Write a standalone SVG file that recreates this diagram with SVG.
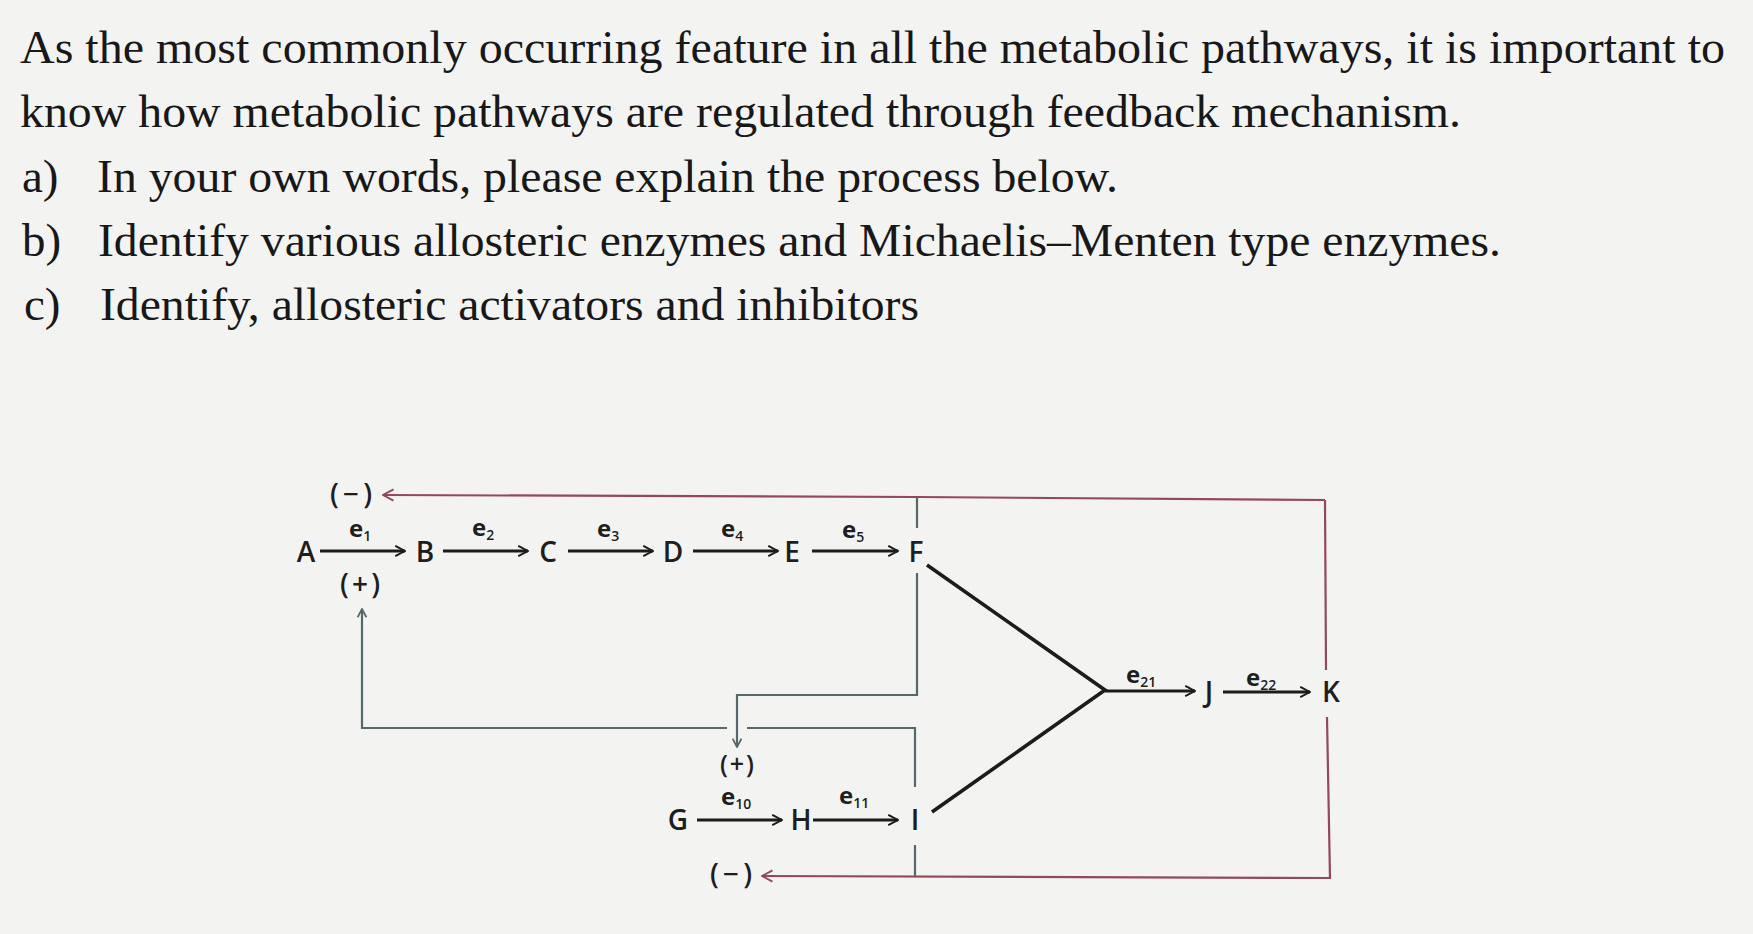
<svg xmlns="http://www.w3.org/2000/svg" width="1753" height="934" viewBox="0 0 1753 934">
<defs>
<style>
.q{font-family:"Liberation Serif","Times New Roman",serif;font-size:47px;fill:#181818}
.n{font-family:"Open Sans","DejaVu Sans",sans-serif;font-size:28px;font-weight:600;fill:#1e1e1e;text-anchor:middle}
.e{font-family:"Open Sans","DejaVu Sans",sans-serif;font-size:24px;font-weight:700;fill:#1e1e1e}
.e tspan{font-size:14px;font-weight:600}
.s{font-family:"Open Sans","DejaVu Sans",sans-serif;font-size:28px;font-weight:600;fill:#1e1e1e;text-anchor:middle}
.s2{font-family:"Open Sans","DejaVu Sans",sans-serif;font-size:25px;font-weight:600;fill:#1e1e1e;text-anchor:middle}
.blk{fill:none;stroke:#1c1c1c;stroke-width:3}
.thk{fill:none;stroke:#1c1c1c;stroke-width:3.6;stroke-linejoin:miter}
.red{fill:none;stroke:#94485c;stroke-width:2.2}
.gry{fill:none;stroke:#56696a;stroke-width:2.2}
</style>
<marker id="mb" viewBox="0 0 10 10" refX="9" refY="5" markerWidth="13" markerHeight="13" markerUnits="userSpaceOnUse" orient="auto">
<path d="M1.5,1 L9,5 L1.5,9" fill="none" stroke="#1c1c1c" stroke-width="1.5"/>
</marker>
<marker id="mr" viewBox="0 0 10 10" refX="9" refY="5" markerWidth="14" markerHeight="14" markerUnits="userSpaceOnUse" orient="auto">
<path d="M1.5,1 L9,5 L1.5,9" fill="none" stroke="#94485c" stroke-width="1.4"/>
</marker>
<marker id="mg" viewBox="0 0 10 10" refX="9" refY="5" markerWidth="11" markerHeight="11" markerUnits="userSpaceOnUse" orient="auto">
<path d="M1.5,1 L9,5 L1.5,9" fill="none" stroke="#56696a" stroke-width="1.6"/>
</marker>
</defs>
<rect width="1753" height="934" fill="#f3f3f2"/>
<g id="question">
<text class="q" x="20" y="63" textLength="1705" lengthAdjust="spacingAndGlyphs">As the most commonly occurring feature in all the metabolic pathways, it is important to</text>
<text class="q" x="20" y="127" textLength="1441" lengthAdjust="spacingAndGlyphs">know how metabolic pathways are regulated through feedback mechanism.</text>
<text class="q" x="22" y="192">a)</text>
<text class="q" x="97" y="192" textLength="1021" lengthAdjust="spacingAndGlyphs">In your own words, please explain the process below.</text>
<text class="q" x="22" y="256">b)</text>
<text class="q" x="98" y="256" textLength="1403" lengthAdjust="spacingAndGlyphs">Identify various allosteric enzymes and Michaelis–Menten type enzymes.</text>
<text class="q" x="24" y="320">c)</text>
<text class="q" x="100" y="320" textLength="819" lengthAdjust="spacingAndGlyphs">Identify, allosteric activators and inhibitors</text>
</g>
<g id="connectors">
<path class="red" d="M1325,500 L917,497 L383,495" marker-end="url(#mr)"/>
<path class="red" d="M1325,500 L1326,670"/>
<path class="red" d="M1327,717 L1330,878 L762,876" marker-end="url(#mr)"/>
<path class="gry" d="M917,497 V528"/>
<path class="gry" d="M917,573 V695 H737 V747" marker-end="url(#mg)"/>
<path class="gry" d="M915,787 V728 H747 M727,728 H362 V609" marker-end="url(#mg)"/>
<path class="gry" d="M915,845 V876"/>
<path class="thk" d="M927,565 L1105,690 L932,812"/>
<line class="blk" x1="320" y1="551" x2="405" y2="551" marker-end="url(#mb)"/>
<line class="blk" x1="443" y1="551" x2="528" y2="551" marker-end="url(#mb)"/>
<line class="blk" x1="568" y1="551" x2="653" y2="551" marker-end="url(#mb)"/>
<line class="blk" x1="693" y1="551" x2="778" y2="551" marker-end="url(#mb)"/>
<line class="blk" x1="812" y1="551" x2="898" y2="551" marker-end="url(#mb)"/>
<line class="blk" x1="697" y1="820" x2="782" y2="820" marker-end="url(#mb)"/>
<line class="blk" x1="813" y1="820" x2="898" y2="820" marker-end="url(#mb)"/>
<line class="blk" x1="1105" y1="691" x2="1195" y2="691" marker-end="url(#mb)"/>
<line class="blk" x1="1223" y1="692" x2="1310" y2="692" marker-end="url(#mb)"/>
</g>
<g id="node-A"><text class="n" x="306" y="562">A</text></g>
<g id="node-B"><text class="n" x="425" y="562">B</text></g>
<g id="node-C"><text class="n" x="548" y="562">C</text></g>
<g id="node-D"><text class="n" x="673" y="562">D</text></g>
<g id="node-E"><text class="n" x="792" y="562">E</text></g>
<g id="node-F"><text class="n" x="916" y="562">F</text></g>
<g id="node-G"><text class="n" x="678" y="830">G</text></g>
<g id="node-H"><text class="n" x="801" y="830">H</text></g>
<g id="node-I"><text class="n" x="915" y="830">I</text></g>
<g id="node-J"><text class="n" x="1209" y="702">J</text></g>
<g id="node-K"><text class="n" x="1331" y="702">K</text></g>
<g id="enzymes">
<text class="e" x="349" y="537">e<tspan dy="4">1</tspan></text>
<text class="e" x="472" y="536">e<tspan dy="4">2</tspan></text>
<text class="e" x="597" y="537">e<tspan dy="4">3</tspan></text>
<text class="e" x="721" y="537">e<tspan dy="4">4</tspan></text>
<text class="e" x="842" y="538">e<tspan dy="4">5</tspan></text>
<text class="e" x="721" y="805">e<tspan dy="4">10</tspan></text>
<text class="e" x="839" y="804">e<tspan dy="4">11</tspan></text>
<text class="e" x="1126" y="683">e<tspan dy="4">21</tspan></text>
<text class="e" x="1246" y="686">e<tspan dy="4">22</tspan></text>
</g>
<g id="effectors">
<text class="s" x="351" y="504" textLength="42" lengthAdjust="spacing">(−)</text>
<text class="s" x="360" y="594" textLength="40" lengthAdjust="spacing">(+)</text>
<text class="s2" x="737" y="773" textLength="34" lengthAdjust="spacing">(+)</text>
<text class="s" x="731" y="884" textLength="42" lengthAdjust="spacing">(−)</text>
</g>
</svg>
